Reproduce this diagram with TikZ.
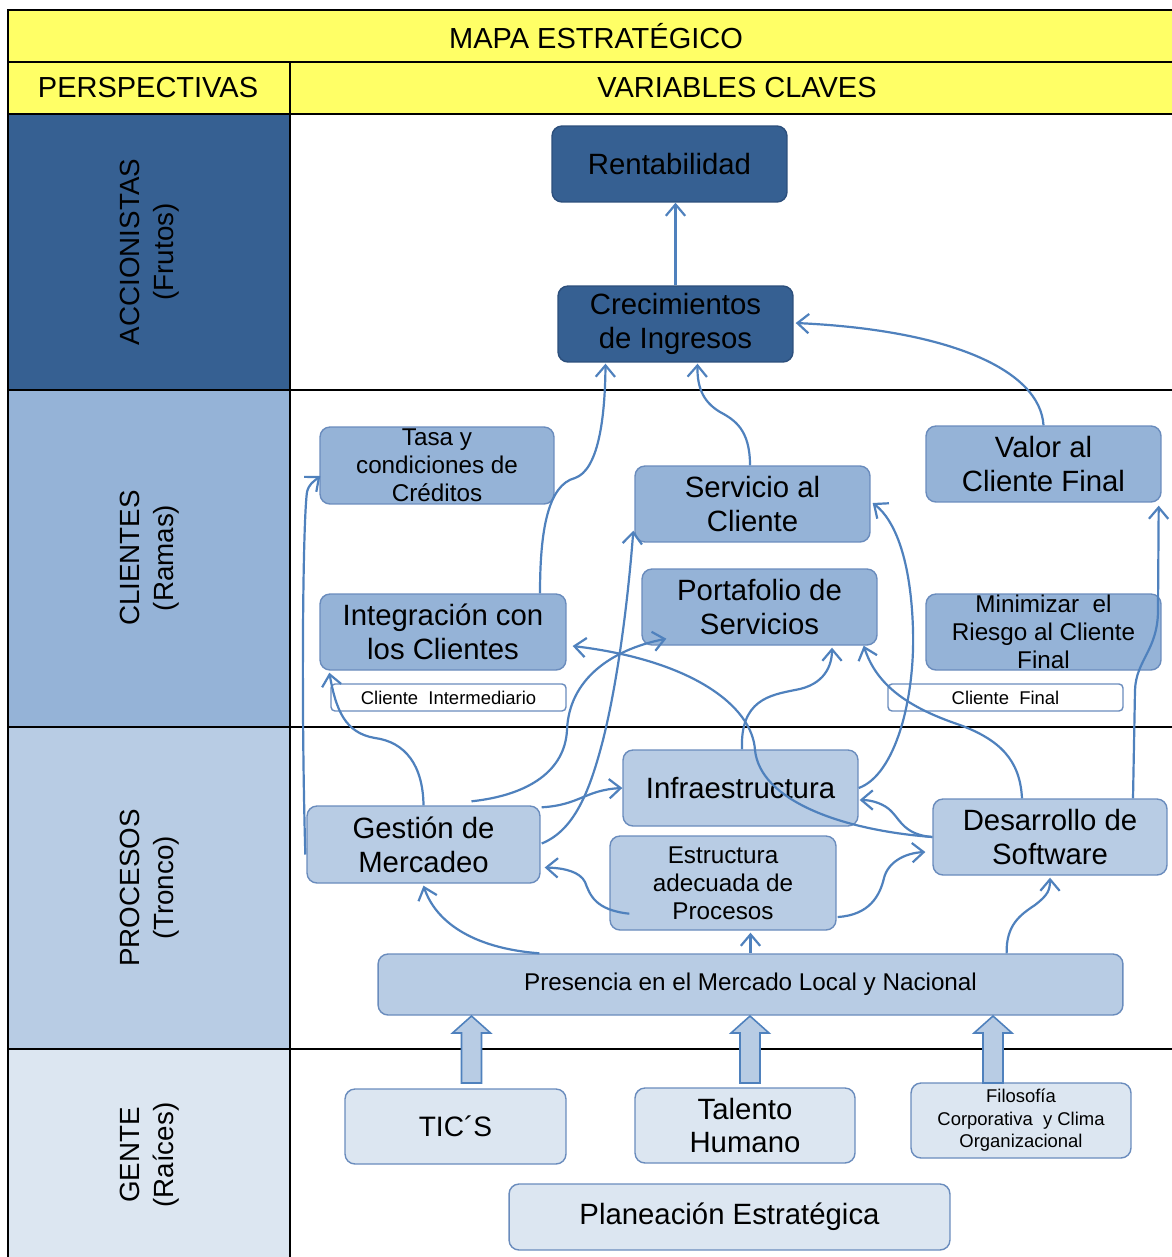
\documentclass[tikz,border=0pt]{standalone}
\usepackage{fontspec}
\setmainfont{Liberation Sans}
\usetikzlibrary{arrows.meta,calc}
\definecolor{yel}{HTML}{FFFF66}
\definecolor{accb}{HTML}{366092}
\definecolor{clib}{HTML}{95B3D7}
\definecolor{prob}{HTML}{B8CCE4}
\definecolor{genb}{HTML}{DCE6F1}
\definecolor{conn}{HTML}{4F81BD}
\definecolor{dkedge}{HTML}{2C4F7C}
\definecolor{ltedge}{HTML}{6A8CBD}
\begin{document}
\begin{tikzpicture}[x=0.02cm,y=-0.02cm,
  frame/.style={draw=black,line width=1.2pt},
  box/.style={draw=ltedge,line width=0.8pt,rounded corners=0.2cm,align=center,inner sep=0pt,text=black},
  bigf/.style={font=\fontsize{16.7}{19.2}\selectfont},
  ticf/.style={font=\fontsize{16}{19}\selectfont},
  midf/.style={font=\fontsize{13.8}{16}\selectfont},
  smf/.style={font=\fontsize{10.5}{12.8}\selectfont},
  hdr/.style={font=\fontsize{16.5}{19}\selectfont,align=center,inner sep=0pt},
  rot/.style={font=\fontsize{15.8}{19.5}\selectfont,align=center,inner sep=0pt,rotate=90},
  acc/.style={box,fill=accb,draw=dkedge},
  cli/.style={box,fill=clib},
  pro/.style={box,fill=prob},
  gen/.style={box,fill=genb},
  lab/.style={box,fill=white,draw=ltedge,rounded corners=0.08cm,smf,minimum width=4.7cm,minimum height=0.54cm},
  con/.style={draw=conn,line width=1.25pt,-{Straight Barb[length=6.5pt,width=11pt]}},
  barrow/.style={fill=prob,draw=conn,line width=0.9pt,line join=miter}
]
\useasboundingbox (0,0) rectangle (1172,1257);
\fill[white] (0,0) rectangle (1172,1257);
% backgrounds
\fill[yel] (8,10) rectangle (1172,114);
\fill[accb] (8,114) rectangle (290,390);
\fill[clib] (8,390) rectangle (290,727);
\fill[prob] (8,727) rectangle (290,1049);
\fill[genb] (8,1049) rectangle (290,1257);
% frame lines
\draw[frame] (8,1257) -- (8,10) -- (1172,10);
\foreach \yy in {62,114,390,727,1049} \draw[frame] (8,\yy) -- (1172,\yy);
\draw[frame] (290,62) -- (290,1257);
% headers
\node[hdr] (titulo) at (596,36) {MAPA ESTRATÉGICO};
\node[hdr] (persp) at (148,88) {PERSPECTIVAS};
\node[hdr] (varcl) at (737,88) {VARIABLES CLAVES};
\node[rot] (lacc) at (150,252) {ACCIONISTAS\\(Frutos)};
\node[rot] (lcli) at (150,558) {CLIENTES\\(Ramas)};
\node[rot] (lpro) at (150,888) {PROCESOS\\(Tronco)};
\node[rot] (lgen) at (150,1155) {GENTE\\(Raíces)};
% nodes
\node[acc,bigf,minimum width=4.7cm,minimum height=1.52cm] (rent) at (669.5,164) {Rentabilidad};
\node[acc,bigf,minimum width=4.7cm,minimum height=1.52cm] (crec) at (675.5,324) {Crecimientos\\de Ingresos};
\node[cli,midf,minimum width=4.68cm,minimum height=1.54cm] (tasa) at (437,465.5) {Tasa y\\condiciones de\\Créditos};
\node[cli,bigf,minimum width=4.7cm,minimum height=1.52cm] (serv) at (752.5,504) {Servicio al\\Cliente};
\node[cli,bigf,minimum width=4.7cm,minimum height=1.52cm] (valor) at (1043.5,464) {Valor al\\Cliente Final};
\node[cli,bigf,minimum width=4.92cm,minimum height=1.52cm] (integ) at (443,632) {Integración con\\los Clientes};
\node[cli,bigf,minimum width=4.7cm,minimum height=1.52cm] (port) at (759.5,607) {Portafolio de\\Servicios};
\node[cli,midf,minimum width=4.7cm,minimum height=1.52cm] (mini) at (1043.5,632) {Minimizar\ \ el\\Riesgo al Cliente\\Final};
\node[lab] (cint) at (448.5,697.5) {Cliente\ \ Intermediario};
\node[lab] (cfin) at (1005.5,697.5) {Cliente\ \ Final};
\node[pro,bigf,minimum width=4.7cm,minimum height=1.52cm] (infra) at (740.5,788) {Infraestructura};
\node[pro,bigf,minimum width=4.66cm,minimum height=1.54cm] (gest) at (423.5,844.5) {Gestión de\\Mercadeo};
\node[pro,midf,minimum width=4.52cm,minimum height=1.88cm] (estr) at (723,883) {Estructura\\adecuada de\\Procesos};
\node[pro,bigf,minimum width=4.68cm,minimum height=1.52cm] (desa) at (1050,837) {Desarrollo de\\Software};
\node[pro,midf,minimum width=14.9cm,minimum height=1.22cm] (pres) at (750.5,984.5) {Presencia en el Mercado Local y Nacional};
\node[gen,ticf,minimum width=4.42cm,minimum height=1.5cm] (tic) at (455.5,1126.5) {TIC´S};
\node[gen,bigf,minimum width=4.4cm,minimum height=1.5cm] (tal) at (745,1125.5) {Talento\\Humano};
\node[gen,smf,minimum width=4.4cm,minimum height=1.5cm] (filo) at (1021,1120.5) {Filosofía\\Corporativa\ \ y Clima\\Organizacional};
\node[gen,bigf,minimum width=8.82cm,minimum height=1.32cm] (plan) at (729.5,1217) {Planeación Estratégica};
% block arrows
\foreach \a in {471.5,750,993}
  \draw[barrow] (\a,1083) ++(-10,0) -- ++(0,-50) -- ++(-9,0) -- ++(19,-17) -- ++(19,17) -- ++(-9,0) -- ++(0,50) -- cycle;
% connectors
\draw[con] (crec.north) -- (crec.north |- rent.south);
\draw[con] ($(integ.north)+(97,0)$) .. controls (540,530) and (548,485) .. (575,478) .. controls (598,470) and (605,420) .. ($(crec.south)+(-70,1)$);
\draw[con] ($(serv.north)+(-2.5,0)$) .. controls (750,430) and (735,420) .. (720,412) .. controls (705,403) and (697,390) .. ($(crec.south)+(22,1)$);
\draw[con] (valor.north) .. controls (1040,370) and (950,330) .. ($(crec.east)+(2,-1)$);
\draw[con] ($(gest.west)+(-1,10)$) .. controls (301,700) and (303,520) .. (307,492) .. controls (309,484) and (313,482) .. ($(tasa.west)+(1,10.5)$);
\draw[con] (gest.north) .. controls (423,765) and (405,742) .. (375,738) .. controls (345,733) and (336,710) .. ($(integ.south west)+(10,2)$);
\draw[con] ($(gest.north)+(48,-4)$) .. controls (530,795) and (565,770) .. (567,730) .. controls (569,680) and (610,650) .. ($(port.south west)+(25,-7)$);
\draw[con] ($(gest.north east)+(1,2)$) .. controls (580,805) and (585,790) .. (infra.west);
\draw[con] ($(gest.east)+(1,-1)$) .. controls (575,830) and (590,790) .. (603,740) .. controls (618,680) and (628,600) .. ($(serv.south west)+(-1,-12)$);
\draw[con] ($(estr.south west)+(20,-17)$) .. controls (595,910) and (590,895) .. (585,882) .. controls (580,872) and (565,868) .. ($(gest.east)+(4,23)$);
\draw[con] ($(pres.north west)+(162,0)$) .. controls (470,948) and (435,920) .. ($(gest.south)+(0,2)$);
\draw[con] (pres.north) -- ($(pres.north |- estr.south)+(0,2)$);
\draw[con] ($(pres.north east)+(-117,0)$) .. controls (1006,925) and (1020,915) .. (1035,905) .. controls (1048,895) and (1050,890) .. ($(desa.south)+(0,2)$);
\draw[con] ($(estr.east)+(1,34)$) .. controls (870,915) and (880,895) .. (884,878) .. controls (888,862) and (905,853) .. ($(desa.west)+(-7,15)$);
\draw[con] (desa.west) .. controls (905,835) and (900,820) .. (892,812) .. controls (885,804) and (872,800) .. ($(infra.east)+(1,12)$);
\draw[con] (desa.west) .. controls (840,830) and (760,800) .. (755,750) .. controls (752,705) and (690,660) .. ($(integ.east)+(6,14)$);
\draw[con] ($(desa.north)+(-28,0)$) .. controls (1020,760) and (1000,740) .. (960,725) .. controls (900,705) and (875,680) .. ($(port.south east)+(-14,0)$);
\draw[con] ($(infra.north)+(1.5,0)$) .. controls (740,700) and (770,695) .. (795,690) .. controls (825,685) and (832,665) .. ($(port.south)+(72.5,2)$);
\draw[con] (infra.east) .. controls (895,775) and (915,700) .. (913,630) .. controls (911,560) and (895,520) .. ($(serv.east)+(2,-1)$);
\draw[con] ($(desa.north)+(83,0)$) -- (1135,690) .. controls (1136,660) and (1158,650) .. (1158,610) -- ($(valor.south east)+(-3,3)$);
\end{tikzpicture}
\end{document}
